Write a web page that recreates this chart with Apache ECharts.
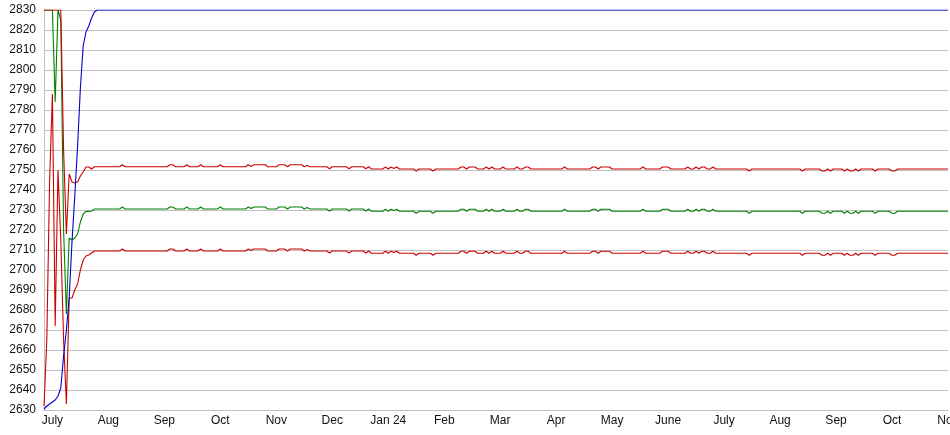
<!DOCTYPE html>
<html>
<head>
<meta charset="utf-8">
<script src="https://cdn.jsdelivr.net/npm/echarts@6/dist/echarts.min.js"></script>
<style>
html,body{margin:0;padding:0;background:#fff;}
#chart{width:950px;height:435px;}
</style>
</head>
<body>
<div id="chart"></div>
<script>
// Month tick labels (one every 20 trading days, starting at index 3)
const monthLabels = ['July','Aug','Sep','Oct','Nov','Dec','Jan 24','Feb','Mar','Apr','May','June','July','Aug','Sep','Oct','Nov'];
const firstLabelIndex = 3;
const labelStep = 20;

// Upper band (red)
const upperBand = [
2830,2830,2830,2830,2830,2830,2830,2760,2718,2748,
2744,2743.5,2744,2747,2749,2751.5,2751.5,2750.5,2751.6,2751.6,
2751.6,2751.6,2751.6,2751.6,2751.6,2751.6,2751.6,2751.6,2752.6,2751.6,
2751.6,2751.6,2751.6,2751.6,2751.6,2751.6,2751.6,2751.6,2751.6,2751.6,
2751.6,2751.6,2751.6,2751.6,2751.6,2752.6,2752.6,2751.6,2751.6,2751.6,
2751.6,2752.6,2751.6,2751.6,2751.6,2751.6,2752.6,2751.6,2751.6,2751.6,
2751.6,2751.6,2751.6,2752.6,2751.6,2751.6,2751.6,2751.6,2751.6,2751.6,
2751.6,2751.6,2751.6,2752.6,2751.8,2752.6,2752.6,2752.6,2752.6,2752.6,
2751.6,2751.6,2751.6,2751.6,2752.6,2752.6,2752.6,2751.6,2752.6,2752.6,
2752.6,2752.6,2752.6,2751.6,2752.3,2751.6,2751.6,2751.6,2751.6,2751.6,
2751.6,2751.6,2750.6,2751.6,2751.6,2751.6,2751.6,2751.6,2751.6,2750.6,
2751.6,2751.6,2751.6,2751.6,2751.6,2750.6,2751.6,2750.5,2750.5,2750.5,
2750.5,2750.5,2751.5,2750.5,2751.5,2750.8,2751.5,2750.5,2750.5,2750.5,
2750.5,2750.5,2750.5,2749.5,2750.5,2750.5,2750.5,2750.5,2750.5,2749.5,
2750.5,2750.5,2750.5,2750.5,2750.5,2750.5,2750.5,2750.5,2750.5,2751.5,
2751.5,2750.5,2751.5,2751.5,2751.5,2750.5,2750.5,2750.5,2751.5,2750.5,
2751.5,2750.5,2750.5,2750.5,2751.5,2750.5,2750.5,2750.5,2750.5,2751.5,
2750.5,2750.5,2751.5,2751.5,2750.5,2750.5,2750.5,2750.5,2750.5,2750.5,
2750.5,2750.5,2750.5,2750.5,2750.5,2750.5,2751.5,2750.5,2750.5,2750.5,
2750.5,2750.5,2750.5,2750.5,2750.5,2750.5,2751.5,2751.5,2750.5,2751.5,
2751.5,2751.5,2751.5,2750.5,2750.5,2750.5,2750.5,2750.5,2750.5,2750.5,
2750.5,2750.5,2750.5,2750.5,2751.5,2750.5,2750.5,2750.5,2750.5,2750.5,
2750.5,2751.5,2751.5,2751.5,2750.5,2750.5,2750.5,2750.5,2750.5,2750.5,
2751.5,2750.5,2750.5,2751.5,2750.5,2751.5,2751.5,2750.5,2750.5,2751.5,
2750.5,2750.5,2750.5,2750.5,2750.5,2750.5,2750.5,2750.5,2750.5,2750.5,
2750.5,2750.5,2749.5,2750.5,2750.5,2750.5,2750.5,2750.5,2750.5,2750.5,
2750.5,2750.5,2750.5,2750.5,2750.5,2750.5,2750.5,2750.5,2750.5,2750.5,
2750.5,2749.5,2750.5,2750.5,2750.5,2750.5,2750.5,2750.5,2749.5,2749.5,
2750.5,2749.5,2750.5,2750.5,2750.5,2750.5,2749.5,2750.5,2749.5,2749.5,
2750.5,2749.5,2750.5,2750.5,2750.5,2750.5,2750.5,2749.5,2750.5,2750.5,
2750.5,2750.5,2750.5,2749.5,2749.5,2750.5,2750.5,2750.5,2750.5,2750.5,
2750.5,2750.5,2750.5,2750.5,2750.5,2750.5,2750.5,2750.5,2750.5,2750.5,
2750.5,2750.5,2750.5,2750.5
];

// Middle line (green)
const middleLine = [
2830,2830,2830,2830,2784,2830,2825,2720,2678,2716,
2715,2716,2718,2724,2728,2729.3,2729.3,2729.5,2730.5,2730.5,
2730.5,2730.5,2730.5,2730.5,2730.5,2730.5,2730.5,2730.5,2731.5,2730.5,
2730.5,2730.5,2730.5,2730.5,2730.5,2730.5,2730.5,2730.5,2730.5,2730.5,
2730.5,2730.5,2730.5,2730.5,2730.5,2731.5,2731.5,2730.5,2730.5,2730.5,
2730.5,2731.5,2730.5,2730.5,2730.5,2730.5,2731.5,2730.5,2730.5,2730.5,
2730.5,2730.5,2730.5,2731.5,2730.5,2730.5,2730.5,2730.5,2730.5,2730.5,
2730.5,2730.5,2730.5,2731.5,2730.7,2731.5,2731.5,2731.5,2731.5,2731.5,
2730.5,2730.5,2730.5,2730.5,2731.5,2731.5,2731.5,2730.5,2731.5,2731.5,
2731.5,2731.5,2731.5,2730.5,2731.2,2730.5,2730.5,2730.5,2730.5,2730.5,
2730.5,2730.5,2729.5,2730.5,2730.5,2730.5,2730.5,2730.5,2730.5,2729.5,
2730.5,2730.5,2730.5,2730.5,2730.5,2729.5,2730.5,2729.4,2729.4,2729.4,
2729.4,2729.4,2730.4,2729.4,2730.4,2729.7,2730.4,2729.4,2729.4,2729.4,
2729.4,2729.4,2729.4,2728.4,2729.4,2729.4,2729.4,2729.4,2729.4,2728.4,
2729.4,2729.4,2729.4,2729.4,2729.4,2729.4,2729.4,2729.4,2729.4,2730.4,
2730.4,2729.4,2730.4,2730.4,2730.4,2729.4,2729.4,2729.4,2730.4,2729.4,
2730.4,2729.4,2729.4,2729.4,2730.4,2729.4,2729.4,2729.4,2729.4,2730.4,
2729.4,2729.4,2730.4,2730.4,2729.4,2729.4,2729.4,2729.4,2729.4,2729.4,
2729.4,2729.4,2729.4,2729.4,2729.4,2729.4,2730.4,2729.4,2729.4,2729.4,
2729.4,2729.4,2729.4,2729.4,2729.4,2729.4,2730.4,2730.4,2729.4,2730.4,
2730.4,2730.4,2730.4,2729.4,2729.4,2729.4,2729.4,2729.4,2729.4,2729.4,
2729.4,2729.4,2729.4,2729.4,2730.4,2729.4,2729.4,2729.4,2729.4,2729.4,
2729.4,2730.4,2730.4,2730.4,2729.4,2729.4,2729.4,2729.4,2729.4,2729.4,
2730.4,2729.4,2729.4,2730.4,2729.4,2730.4,2730.4,2729.4,2729.4,2730.4,
2729.4,2729.4,2729.4,2729.4,2729.4,2729.4,2729.4,2729.4,2729.4,2729.4,
2729.4,2729.4,2728.4,2729.4,2729.4,2729.4,2729.4,2729.4,2729.4,2729.4,
2729.4,2729.4,2729.4,2729.4,2729.4,2729.4,2729.4,2729.4,2729.4,2729.4,
2729.4,2728.4,2729.4,2729.4,2729.4,2729.4,2729.4,2729.4,2728.4,2728.4,
2729.4,2728.4,2729.4,2729.4,2729.4,2729.4,2728.4,2729.4,2728.4,2728.4,
2729.4,2728.4,2729.4,2729.4,2729.4,2729.4,2729.4,2728.4,2729.4,2729.4,
2729.4,2729.4,2729.4,2728.4,2728.4,2729.4,2729.4,2729.4,2729.4,2729.4,
2729.4,2729.4,2729.4,2729.4,2729.4,2729.4,2729.4,2729.4,2729.4,2729.4,
2729.4,2729.4,2729.4,2729.4
];

// Lower band (red)
const lowerBand = [
2632,2665,2744,2788,2672,2750,2715,2665,2633,2686,
2686,2690,2693,2700,2705,2707,2707.5,2708.5,2709.5,2709.5,
2709.5,2709.5,2709.5,2709.5,2709.5,2709.5,2709.5,2709.5,2710.5,2709.5,
2709.5,2709.5,2709.5,2709.5,2709.5,2709.5,2709.5,2709.5,2709.5,2709.5,
2709.5,2709.5,2709.5,2709.5,2709.5,2710.5,2710.5,2709.5,2709.5,2709.5,
2709.5,2710.5,2709.5,2709.5,2709.5,2709.5,2710.5,2709.5,2709.5,2709.5,
2709.5,2709.5,2709.5,2710.5,2709.5,2709.5,2709.5,2709.5,2709.5,2709.5,
2709.5,2709.5,2709.5,2710.5,2709.7,2710.5,2710.5,2710.5,2710.5,2710.5,
2709.5,2709.5,2709.5,2709.5,2710.5,2710.5,2710.5,2709.5,2710.5,2710.5,
2710.5,2710.5,2710.5,2709.5,2710.2,2709.5,2709.5,2709.5,2709.5,2709.5,
2709.5,2709.5,2708.5,2709.5,2709.5,2709.5,2709.5,2709.5,2709.5,2708.5,
2709.5,2709.5,2709.5,2709.5,2709.5,2708.5,2709.5,2708.4,2708.4,2708.4,
2708.4,2708.4,2709.4,2708.4,2709.4,2708.7,2709.4,2708.4,2708.4,2708.4,
2708.4,2708.4,2708.4,2707.4,2708.4,2708.4,2708.4,2708.4,2708.4,2707.4,
2708.4,2708.4,2708.4,2708.4,2708.4,2708.4,2708.4,2708.4,2708.4,2709.4,
2709.4,2708.4,2709.4,2709.4,2709.4,2708.4,2708.4,2708.4,2709.4,2708.4,
2709.4,2708.4,2708.4,2708.4,2709.4,2708.4,2708.4,2708.4,2708.4,2709.4,
2708.4,2708.4,2709.4,2709.4,2708.4,2708.4,2708.4,2708.4,2708.4,2708.4,
2708.4,2708.4,2708.4,2708.4,2708.4,2708.4,2709.4,2708.4,2708.4,2708.4,
2708.4,2708.4,2708.4,2708.4,2708.4,2708.4,2709.4,2709.4,2708.4,2709.4,
2709.4,2709.4,2709.4,2708.4,2708.4,2708.4,2708.4,2708.4,2708.4,2708.4,
2708.4,2708.4,2708.4,2708.4,2709.4,2708.4,2708.4,2708.4,2708.4,2708.4,
2708.4,2709.4,2709.4,2709.4,2708.4,2708.4,2708.4,2708.4,2708.4,2708.4,
2709.4,2708.4,2708.4,2709.4,2708.4,2709.4,2709.4,2708.4,2708.4,2709.4,
2708.4,2708.4,2708.4,2708.4,2708.4,2708.4,2708.4,2708.4,2708.4,2708.4,
2708.4,2708.4,2707.4,2708.4,2708.4,2708.4,2708.4,2708.4,2708.4,2708.4,
2708.4,2708.4,2708.4,2708.4,2708.4,2708.4,2708.4,2708.4,2708.4,2708.4,
2708.4,2707.4,2708.4,2708.4,2708.4,2708.4,2708.4,2708.4,2707.4,2707.4,
2708.4,2707.4,2708.4,2708.4,2708.4,2708.4,2707.4,2708.4,2707.4,2707.4,
2708.4,2707.4,2708.4,2708.4,2708.4,2708.4,2708.4,2707.4,2708.4,2708.4,
2708.4,2708.4,2708.4,2707.4,2707.4,2708.4,2708.4,2708.4,2708.4,2708.4,
2708.4,2708.4,2708.4,2708.4,2708.4,2708.4,2708.4,2708.4,2708.4,2708.4,
2708.4,2708.4,2708.4,2708.4
];

// Blue line
const blueLine = [
2630.5,2632,2633,2634,2635,2637,2641,2657,2670,2686,
2714,2737,2762,2791,2812,2819,2822,2826,2829,2830,
2830,2830,2830,2830,2830,2830,2830,2830,2830,2830,
2830,2830,2830,2830,2830,2830,2830,2830,2830,2830,
2830,2830,2830,2830,2830,2830,2830,2830,2830,2830,
2830,2830,2830,2830,2830,2830,2830,2830,2830,2830,
2830,2830,2830,2830,2830,2830,2830,2830,2830,2830,
2830,2830,2830,2830,2830,2830,2830,2830,2830,2830,
2830,2830,2830,2830,2830,2830,2830,2830,2830,2830,
2830,2830,2830,2830,2830,2830,2830,2830,2830,2830,
2830,2830,2830,2830,2830,2830,2830,2830,2830,2830,
2830,2830,2830,2830,2830,2830,2830,2830,2830,2830,
2830,2830,2830,2830,2830,2830,2830,2830,2830,2830,
2830,2830,2830,2830,2830,2830,2830,2830,2830,2830,
2830,2830,2830,2830,2830,2830,2830,2830,2830,2830,
2830,2830,2830,2830,2830,2830,2830,2830,2830,2830,
2830,2830,2830,2830,2830,2830,2830,2830,2830,2830,
2830,2830,2830,2830,2830,2830,2830,2830,2830,2830,
2830,2830,2830,2830,2830,2830,2830,2830,2830,2830,
2830,2830,2830,2830,2830,2830,2830,2830,2830,2830,
2830,2830,2830,2830,2830,2830,2830,2830,2830,2830,
2830,2830,2830,2830,2830,2830,2830,2830,2830,2830,
2830,2830,2830,2830,2830,2830,2830,2830,2830,2830,
2830,2830,2830,2830,2830,2830,2830,2830,2830,2830,
2830,2830,2830,2830,2830,2830,2830,2830,2830,2830,
2830,2830,2830,2830,2830,2830,2830,2830,2830,2830,
2830,2830,2830,2830,2830,2830,2830,2830,2830,2830,
2830,2830,2830,2830,2830,2830,2830,2830,2830,2830,
2830,2830,2830,2830,2830,2830,2830,2830,2830,2830,
2830,2830,2830,2830,2830,2830,2830,2830,2830,2830,
2830,2830,2830,2830,2830,2830,2830,2830,2830,2830,
2830,2830,2830,2830,2830,2830,2830,2830,2830,2830,
2830,2830,2830,2830
];

const N = upperBand.length;
const categories = [];
for (let i = 0; i < N; i++) categories.push('d' + i);

const isLabelIndex = (i) => i >= firstLabelIndex && (i - firstLabelIndex) % labelStep === 0;

const chart = echarts.init(document.getElementById('chart'), null, {renderer: 'canvas'});
const lineSeries = (name, data, color) => ({
  name: name, type: 'line', data: data, showSymbol: false, symbol: 'none',
  lineStyle: {width: 1.1, color: color}, itemStyle: {color: color},
  clip: true, animation: false
});
chart.setOption({
  animation: false,
  backgroundColor: '#ffffff',
  grid: {left: 44, right: 2, top: 10, bottom: 25, containLabel: false, outerBoundsMode: 'none'},
  xAxis: {
    type: 'category', data: categories, boundaryGap: false,
    axisLine: {show: true, lineStyle: {color: '#c0c0c0', width: 1}},
    axisTick: {show: false},
    splitLine: {show: false},
    axisLabel: {
      interval: (i) => isLabelIndex(i),
      formatter: (v, i) => isLabelIndex(i) ? monthLabels[(i - firstLabelIndex) / labelStep] : '',
      color: '#111', fontSize: 12, fontFamily: 'Liberation Sans, Arial, sans-serif', margin: 5,
      hideOverlap: false
    }
  },
  yAxis: {
    type: 'value', min: 2630, max: 2830, interval: 10,
    axisLine: {show: true, lineStyle: {color: '#c0c0c0', width: 1}},
    axisTick: {show: false},
    splitLine: {show: true, lineStyle: {color: '#c0c0c0', width: 1}},
    axisLabel: {color: '#111', fontSize: 12, fontFamily: 'Liberation Sans, Arial, sans-serif', margin: 8,
      formatter: (v) => String(v)}
  },
  series: [
    lineSeries('Middle', middleLine, '#008000'),
    lineSeries('Lower', lowerBand, '#cc0000'),
    lineSeries('Upper', upperBand, '#cc0000'),
    lineSeries('Blue', blueLine, '#0000cc')
  ]
});
</script>
</body>
</html>
